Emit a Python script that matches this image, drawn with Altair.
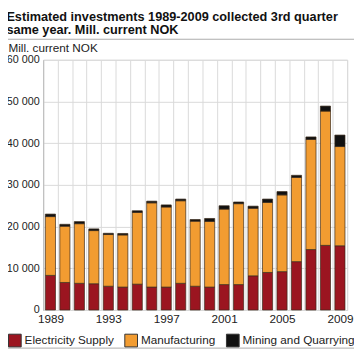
import altair as alt
import pandas as pd

years = list(range(1989, 2010))
electricity = [8300, 6600, 6400, 6300, 5700, 5500, 6200, 5500, 5500, 6400, 5700,
               5500, 6100, 6100, 8200, 9000, 9200, 11600, 14500, 15500, 15400]
manufacturing = [14100, 13500, 14300, 12750, 12400, 12500, 17200, 20200, 19200, 19800, 15600,
                 15750, 18100, 19400, 16200, 16800, 18400, 20200, 26400, 32200, 23800]
mining = [600, 450, 500, 400, 300, 350, 400, 400, 500, 400, 400,
          700, 800, 400, 500, 800, 800, 500, 600, 1200, 2750]

series = ["Electricity Supply", "Manufacturing", "Mining and Quarrying"]
colors = ["#9b1520", "#f29c31", "#111111"]
title_line1 = "Estimated investments 1989-2009 collected 3rd quarter"
title_line2 = "same year. Mill. current NOK"
y_title = "Mill. current NOK"

rows = []
for i, y in enumerate(years):
    for k, (name, vals) in enumerate(zip(series, [electricity, manufacturing, mining])):
        rows.append({"year": y, "series": name, "value": vals[i], "ord": k})
df = pd.DataFrame(rows)

FONT = "Liberation Sans"

bars = alt.Chart(df).mark_bar(
    width=alt.RelativeBandSize(0.7), stroke="#3a2a1a", strokeWidth=0.7
).encode(
    x=alt.X("year:O",
            scale=alt.Scale(paddingInner=0, paddingOuter=0),
            axis=alt.Axis(title=None, tickBand="extent", ticks=False, domain=False,
                          labelAngle=0, labelOverlap=False, labelPadding=4,
                          labelExpr="datum.value % 4 == 1 ? datum.label : ''",
                          labelFontSize=12, labelColor="#222", labelFont=FONT,
                          grid=True, gridColor="#d9d9d9")),
    y=alt.Y("value:Q", stack="zero",
            scale=alt.Scale(domain=[0, 60000], nice=False),
            axis=alt.Axis(title=y_title, titleAngle=0, titleAlign="left",
                          titleBaseline="middle", titleX=-36, titleY=-12,
                          titleFontSize=12, titleFontWeight="normal", titleFont=FONT,
                          titleColor="#222",
                          values=[0, 10000, 20000, 30000, 40000, 50000, 60000],
                          labelExpr="replace(format(datum.value, ','), ',', ' ')",
                          labelFontSize=11, labelColor="#222", labelFont=FONT,
                          ticks=False, labelPadding=4, domain=True, domainColor="#bbbbbb",
                          grid=True, gridColor="#d9d9d9")),
    color=alt.Color("series:N",
                    scale=alt.Scale(domain=series, range=colors),
                    legend=alt.Legend(orient="none", legendX=-36, legendY=280,
                                      direction="horizontal", columns=3, title=None,
                                      symbolType="square", symbolSize=169,
                                      symbolStrokeColor="#333", symbolStrokeWidth=1,
                                      symbolOpacity=1,
                                      labelFontSize=12, labelFont=FONT, labelColor="#222",
                                      labelOffset=3, columnPadding=8)),
    order=alt.Order("ord:Q", sort="ascending"),
)

line_data = alt.Data(values=[{"k": 1}])
top_rule = alt.Chart(line_data).mark_rule(color="#aaaaaa", strokeWidth=1).encode(
    x=alt.value(-36), x2=alt.value(318), y=alt.value(-21))
bottom_rule = alt.Chart(line_data).mark_rule(color="#aaaaaa", strokeWidth=1).encode(
    x=alt.value(-36), x2=alt.value(318), y=alt.value(295))

chart = alt.layer(bars, top_rule, bottom_rule).properties(
    width=311, height=256,
    autosize=alt.AutoSizeParams(type="none"),
    padding={"left": 36, "top": 49, "right": 7, "bottom": 40},
    title=alt.TitleParams(text=title_line1, subtitle=title_line2,
                          anchor="start", frame="bounds",
                          font=FONT, fontSize=13, fontWeight="bold", color="#111",
                          subtitleFont=FONT, subtitleFontSize=13,
                          subtitleFontWeight="bold", subtitleColor="#111",
                          subtitlePadding=0, offset=2),
).configure_view(stroke="#d9d9d9")

chart.save("out.html", embed_options={"renderer": "svg", "actions": False})
